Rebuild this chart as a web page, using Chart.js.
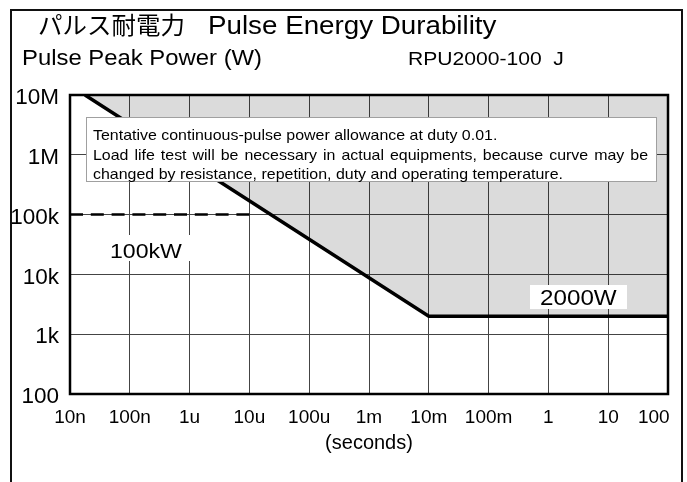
<!DOCTYPE html>
<html>
<head>
<meta charset="utf-8">
<script src="https://cdn.jsdelivr.net/npm/chart.js@4/dist/chart.umd.min.js"></script>
<style>
html,body{margin:0;padding:0;background:#fff;}
#wrap{width:687px;height:482px;position:relative;}
</style>
</head>
<body>
<div id="wrap"><canvas id="c" width="687" height="482"></canvas></div>
<script>
// ---- data ----
const curveTime = [1.78e-8, 1e-2, 100];          // seconds
const curvePower = [1e7, 2000, 2000];            // W
const limitTime = [1e-8, 1e-5];
const limitPower = [1e5, 1e5];
const xTickValues = [1e-8,1e-7,1e-6,1e-5,1e-4,1e-3,1e-2,1e-1,1,10,100];
const xTickLabels = ['10n','100n','1u','10u','100u','1m','10m','100m','1','10','100'];
const yTickValues = [1e2,1e3,1e4,1e5,1e6,1e7];
const yTickLabels = ['100','1k','10k','100k','1M','10M'];
const titleJa = 'パルス耐電力';
const titleEn = 'Pulse Energy Durability';
const yAxisTitle = 'Pulse Peak Power (W)';
const modelName = 'RPU2000-100  J';
const noteLines = [
  'Tentative continuous-pulse power allowance at duty 0.01.',
  'Load life test will be necessary in actual equipments, because curve may be',
  'changed by resistance, repetition, duty and operating temperature.'
];
const label100k = '100kW';
const label2000 = '2000W';

const FONT = '"Liberation Sans", Arial, Helvetica, sans-serif';

function sText(ctx, text, x, y, size, sx, family, align) {
  ctx.save();
  ctx.font = size + 'px ' + (family || FONT);
  ctx.textBaseline = 'alphabetic';
  ctx.textAlign = 'left';
  const w = ctx.measureText(text).width * sx;
  let x0 = x;
  if (align === 'center') x0 = x - w / 2;
  if (align === 'right') x0 = x - w;
  ctx.translate(x0, y);
  ctx.scale(sx, 1);
  ctx.fillStyle = '#000';
  ctx.fillText(text, 0, 0);
  ctx.restore();
  return w;
}
function justText(ctx, text, x, y, size, sx, width) {
  ctx.save();
  ctx.font = size + 'px ' + FONT;
  const words = text.split(' ');
  const ww = words.map(w => ctx.measureText(w).width * sx);
  ctx.restore();
  const tot = ww.reduce((a,b)=>a+b,0);
  const gap = (width - tot) / (words.length - 1);
  let cx = x;
  words.forEach((w,i)=>{ sText(ctx, w, cx, y, size, sx); cx += ww[i] + gap; });
}

const overlay = {
  id: 'overlay',
  afterDatasetsDraw(chart) {
    const ctx = chart.ctx;
    const a = chart.chartArea;
    ctx.save();
    // note box
    ctx.fillStyle = '#fff';
    ctx.fillRect(86, 117, 571, 65);
    ctx.strokeStyle = '#a0a0a0';
    ctx.lineWidth = 1;
    ctx.strokeRect(86.5, 117.5, 570, 64);
    sText(ctx, noteLines[0], 93, 140, 14.5, 1.1);
    justText(ctx, noteLines[1], 93, 160, 14.5, 1.1, 555);
    sText(ctx, noteLines[2], 93, 179, 14.5, 1.1);
    // 100kW label
    ctx.fillStyle = '#fff';
    ctx.fillRect(107, 235, 86, 26);
    sText(ctx, label100k, 110, 258, 21, 1.1);
    // 2000W label
    ctx.fillStyle = '#fff';
    ctx.fillRect(530, 285, 97, 24);
    sText(ctx, label2000, 540, 305, 22, 1.1);
    // plot frame
    ctx.strokeStyle = '#000';
    ctx.lineWidth = 2.5;
    ctx.strokeRect(a.left, a.top, a.right - a.left, a.bottom - a.top);
    ctx.restore();
  },
  afterDraw(chart) {
    const ctx = chart.ctx;
    ctx.save();
    ctx.strokeStyle = '#111';
    ctx.lineWidth = 2;
    ctx.beginPath();
    ctx.moveTo(11, 490); ctx.lineTo(11, 10); ctx.lineTo(682, 10); ctx.lineTo(682, 490);
    ctx.stroke();
    sText(ctx, titleJa, 38, 34, 24, 1.02, '"Noto Sans CJK JP", sans-serif');
    sText(ctx, titleEn, 208, 34, 25, 1.11);
    sText(ctx, yAxisTitle, 22, 65, 21.5, 1.11);
    sText(ctx, modelName, 408, 65, 19, 1.11);
    ctx.restore();
  }
};

function decadeTicks(vals) {
  return function(scale) { scale.ticks = vals.map(v => ({value: v})); };
}

new Chart(document.getElementById('c'), {
  type: 'line',
  data: {
    datasets: [
      {
        data: curveTime.map((t,i)=>({x:t, y:curvePower[i]})),
        borderColor: '#000', borderWidth: 3.5,
        backgroundColor: 'rgba(0,0,0,0.14)', fill: 'end',
        pointRadius: 0, tension: 0, order: 1
      },
      {
        data: limitTime.map((t,i)=>({x:t, y:limitPower[i]})),
        borderColor: '#000', borderWidth: 2.5, borderDash: [13,7.8],
        fill: false, pointRadius: 0, tension: 0, order: 2
      }
    ]
  },
  options: {
    responsive: false, animation: false, devicePixelRatio: 1,
    layout: { padding: { top: 95, right: 19, left: 0, bottom: 0 } },
    plugins: { legend: {display:false}, tooltip: {enabled:false}, title: {display:false} },
    scales: {
      x: {
        type: 'logarithmic', min: 1e-8, max: 100,
        afterBuildTicks: decadeTicks(xTickValues),
        afterFit(s) { s.height = 88; s.paddingLeft = 0; s.paddingRight = 0; },
        grid: { color: '#444', lineWidth: 1, drawTicks: false },
        border: { display: false },
        ticks: {
          autoSkip: false, maxRotation: 0, padding: 12, color: '#000',
          font: { family: FONT, size: 19 },
          callback: (v, i) => xTickLabels[i] + (i === xTickLabels.length - 1 ? '\u2002\u2002\u2002' : '')
        },
        title: { display: true, text: '(seconds)', color: '#000',
                 font: { family: FONT, size: 20 }, padding: { top: 4, bottom: 27 } }
      },
      y: {
        type: 'logarithmic', min: 100, max: 1e7,
        afterBuildTicks: decadeTicks(yTickValues),
        afterFit(s) { s.width = 70; s.paddingTop = 0; s.paddingBottom = 0; },
        grid: { color: '#444', lineWidth: 1, drawTicks: false },
        border: { display: false },
        ticks: {
          autoSkip: false, padding: 11, color: '#000', labelOffset: 3,
          font: { family: FONT, size: 22.5 },
          callback: (v, i) => yTickLabels[i]
        }
      }
    }
  },
  plugins: [overlay]
});
</script>
</body>
</html>
